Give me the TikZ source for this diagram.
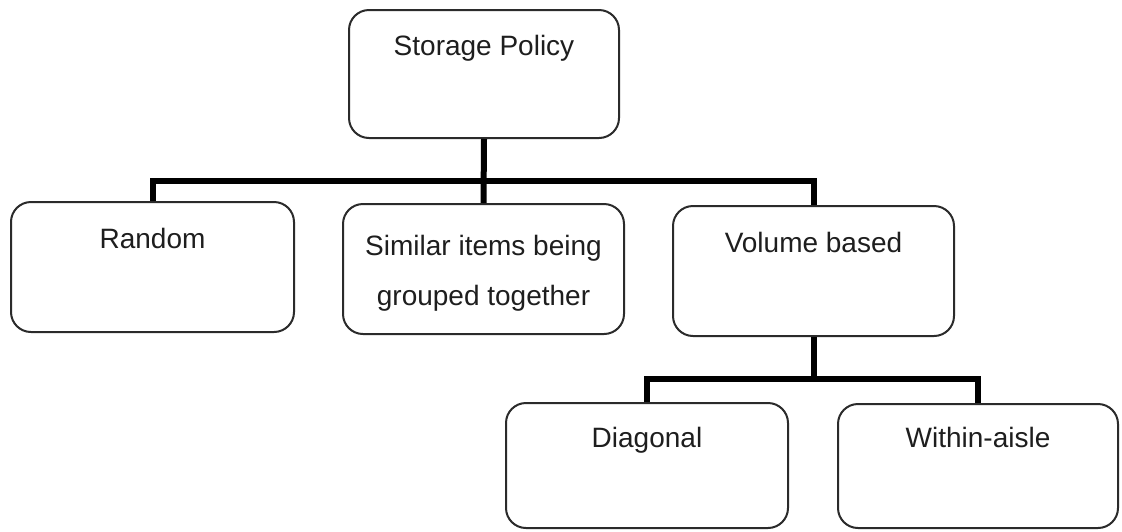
\documentclass[tikz,border=0pt]{standalone}
\usepackage{fontspec}
\setmainfont{Liberation Sans}
\definecolor{boxline}{HTML}{2B2B2B}
\definecolor{ink}{HTML}{1E1E1E}
\begin{document}
\begin{tikzpicture}[x=1pt,y=-1pt,
  box/.style={draw=boxline, line width=2pt, rounded corners=20pt, inner sep=0pt, fill=white},
  lbl/.style={anchor=base, inner sep=0pt, text=ink, font=\fontsize{28}{50}\selectfont, align=center},
  conn/.style={line width=6pt, draw=black, line join=miter}]
  % canvas
  \fill[white] (0,0) rectangle (1122,531);
  \useasboundingbox (0,0) rectangle (1122,531);

  % boxes
  \node[box, minimum width=270pt, minimum height=128pt] (sp)   at (484,74)    {};
  \node[box, minimum width=283pt, minimum height=130pt] (rand) at (152.5,267) {};
  \node[box, minimum width=281pt, minimum height=130pt] (sim)  at (483.5,269) {};
  \node[box, minimum width=281pt, minimum height=130pt] (vol)  at (813.5,271) {};
  \node[box, minimum width=282pt, minimum height=125pt] (diag) at (647,465.5) {};
  \node[box, minimum width=280pt, minimum height=124pt] (wa)   at (978,466)   {};

  % labels (base anchor sits on the last line's baseline)
  \node[lbl] (tsp)   at (484,55)    {Storage Policy};
  \node[lbl] (trand) at (152.5,248) {Random};
  \node[lbl] (tsim)  at (483.5,305) {Similar items being\\grouped together};
  \node[lbl] (tvol)  at (813.5,252) {Volume based};
  \node[lbl] (tdiag) at (647,447)   {Diagonal};
  \node[lbl] (twa)   at (978,447)   {Within-aisle};

  % connectors
  \coordinate (bar1) at (484,181);
  \coordinate (bar2) at (813.5,379);
  \draw[conn] (sp.south) -- (sim.north);
  \draw[conn] (rand.north) |- (bar1) -| (vol.north);
  \draw[conn] (vol.south) -- (bar2);
  \draw[conn] (diag.north) |- (bar2) -| (wa.north);
\end{tikzpicture}
\end{document}
